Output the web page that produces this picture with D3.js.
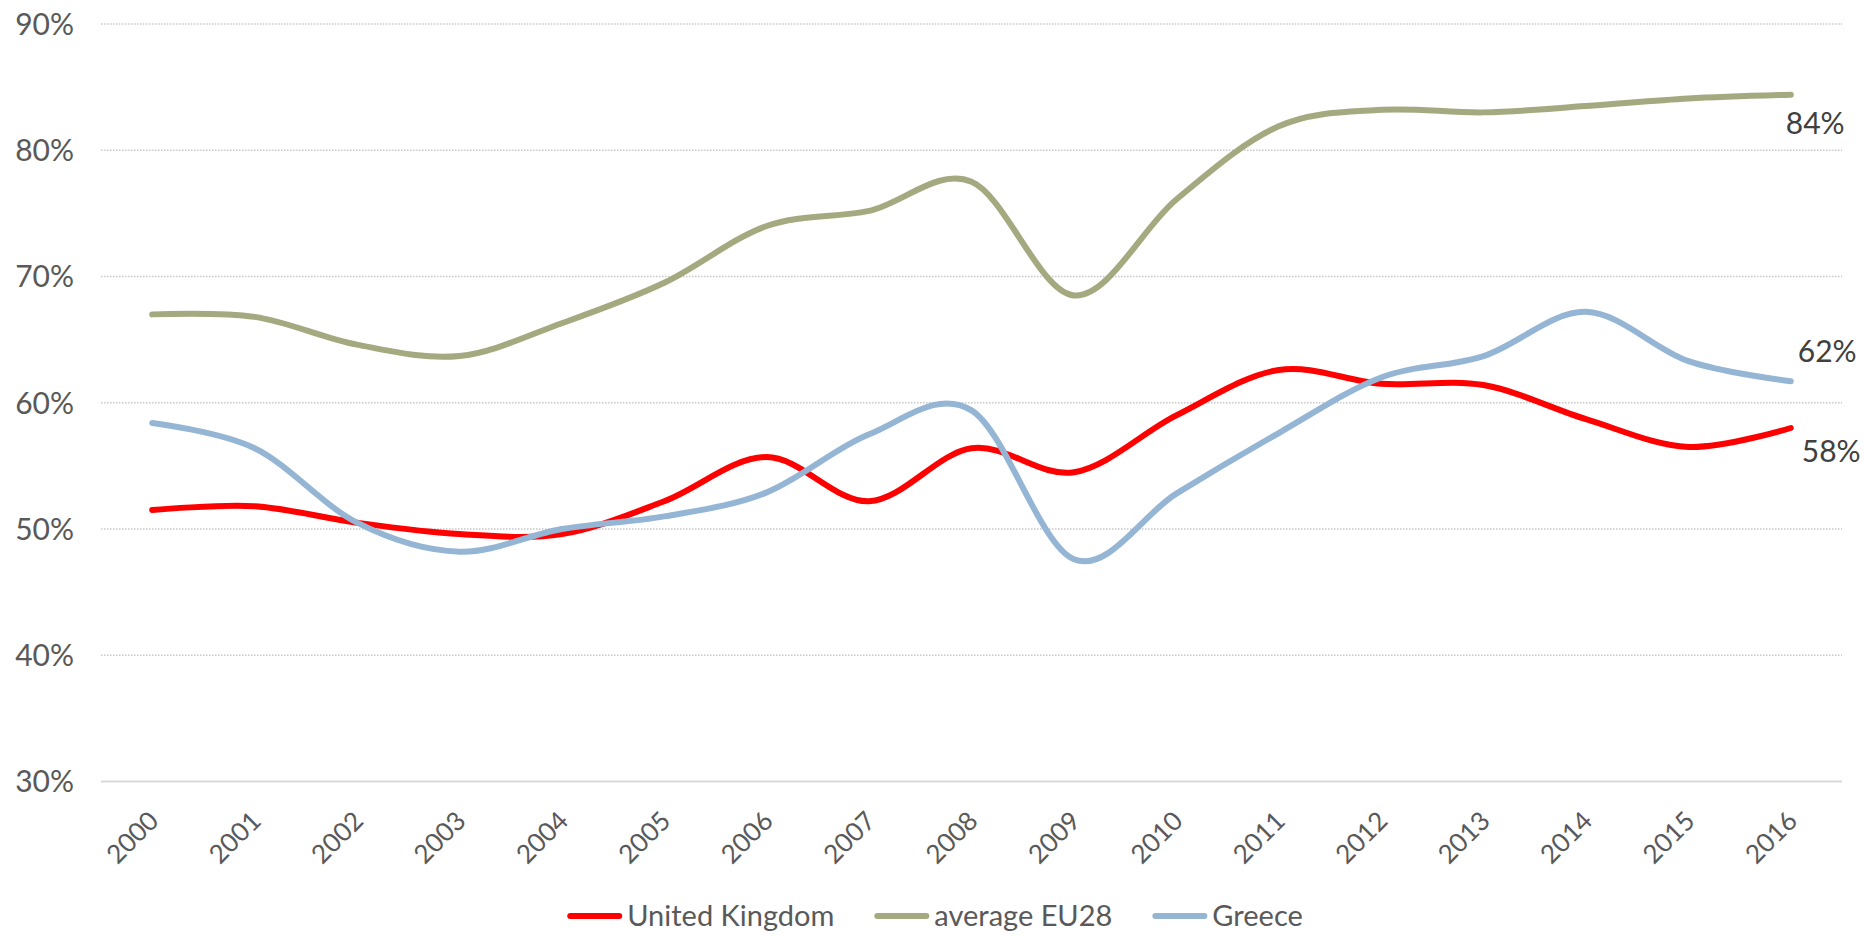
<!DOCTYPE html>
<html>
<head>
<meta charset="utf-8">
<script src="https://cdn.jsdelivr.net/npm/d3@7"></script>
<style>
  html, body { margin: 0; padding: 0; background: #fff; }
  #chartContainer { width: 1865px; height: 937px; }
</style>
</head>
<body>
<div id="chartContainer"></div>
<script>
const years = ["2000", "2001", "2002", "2003", "2004", "2005", "2006", "2007", "2008",
  "2009", "2010", "2011", "2012", "2013", "2014", "2015", "2016"];

const unitedKingdom = [51.5, 51.8, 50.5, 49.6, 49.6, 52.2, 55.7, 52.2, 56.4,
  54.5, 59.0, 62.6, 61.5, 61.4, 58.7, 56.5, 58.0];
const averageEU28 = [67.0, 66.8, 64.6, 63.7, 66.3, 69.5, 74.0, 75.2, 77.5,
  68.5, 76.1, 81.9, 83.2, 83.0, 83.5, 84.1, 84.4];
const greece = [58.4, 56.4, 50.5, 48.2, 50.0, 51.0, 52.9, 57.5, 59.4,
  47.6, 52.8, 57.6, 62.0, 63.7, 67.2, 63.3, 61.7];

const yTicks = [30, 40, 50, 60, 70, 80, 90];

const seriesNames = ["United Kingdom", "average EU28", "Greece"];
const seriesValues = [unitedKingdom, averageEU28, greece];
const seriesColors = ["#ff0000", "#a4a97f", "#95b5d5"];

// end labels: offset from the last point
const endLabelOffsets = [[11, 34], [-5, 39], [7, -19]];

const width = 1865;
const height = 937;
const margin = { top: 24, right: 23, bottom: 155.5, left: 101 };
const innerW = width - margin.left - margin.right;
const innerH = height - margin.top - margin.bottom;

const svg = d3
  .select("#chartContainer")
  .append("svg")
  .attr("width", width)
  .attr("height", height);

const g = svg.append("g").attr("transform", `translate(${margin.left},${margin.top})`);

const x = d3.scalePoint().domain(years).range([0, innerW]).padding(0.5);
const y = d3.scaleLinear().domain([30, 90]).range([innerH, 0]);

// gridlines
g.selectAll(".grid")
  .data(yTicks)
  .enter()
  .append("line")
  .attr("x1", 0)
  .attr("x2", innerW)
  .attr("y1", (d) => y(d))
  .attr("y2", (d) => y(d))
  .attr("stroke", (d) => (d === 30 ? "#d9d9d9" : "#c8c8c8"))
  .attr("stroke-width", (d) => (d === 30 ? 2 : 1.5))
  .attr("stroke-dasharray", (d) => (d === 30 ? null : "1.5,1.5"));

// y axis labels
g.selectAll(".ylab")
  .data(yTicks)
  .enter()
  .append("text")
  .attr("x", -27)
  .attr("y", (d) => y(d))
  .attr("dy", "0.36em")
  .attr("text-anchor", "end")
  .attr("font-family", "Lato, sans-serif")
  .attr("font-size", 30)
  .attr("fill", "#595959")
  .text((d) => `${d}%`);

// x axis labels, rotated
g.selectAll(".xlab")
  .data(years)
  .enter()
  .append("text")
  .attr("transform", (d) => `translate(${x(d) + 8},${innerH + 41}) rotate(-45)`)
  .attr("text-anchor", "end")
  .attr("font-family", "Lato, sans-serif")
  .attr("font-size", 26)
  .attr("fill", "#595959")
  .text((d) => d);

const line = d3
  .line()
  .x((d, i) => x(years[i]))
  .y((d) => y(d))
  .curve(d3.curveCardinal.tension(0));

seriesValues.forEach((vals, s) => {
  g.append("path")
    .datum(vals)
    .attr("fill", "none")
    .attr("stroke", seriesColors[s])
    .attr("stroke-width", 6)
    .attr("stroke-linecap", "round")
    .attr("stroke-linejoin", "round")
    .attr("d", line);

  const last = vals[vals.length - 1];
  g.append("text")
    .attr("x", x(years[years.length - 1]) + endLabelOffsets[s][0])
    .attr("y", y(last) + endLabelOffsets[s][1])
    .attr("font-family", "Lato, sans-serif")
    .attr("font-size", 30)
    .attr("fill", "#404040")
    .text(`${Math.round(last)}%`);
});

// legend
const legend = svg.append("g").attr("transform", "translate(0,916)");
let cursor = 0;
seriesNames.forEach((name, s) => {
  const item = legend.append("g").attr("transform", `translate(${cursor},0)`);
  item.append("line")
    .attr("x1", 3).attr("x2", 52)
    .attr("y1", 0).attr("y2", 0)
    .attr("stroke", seriesColors[s])
    .attr("stroke-width", 6)
    .attr("stroke-linecap", "round");
  const t = item.append("text")
    .attr("x", 60)
    .attr("dy", "0.36em")
    .attr("font-family", "Lato, sans-serif")
    .attr("font-size", 29)
    .attr("fill", "#595959")
    .text(name);
  cursor += 60 + t.node().getComputedTextLength() + 40;
});
const legendW = cursor - 40;
legend.attr("transform", `translate(${935 - legendW / 2},916)`);
</script>
</body>
</html>
